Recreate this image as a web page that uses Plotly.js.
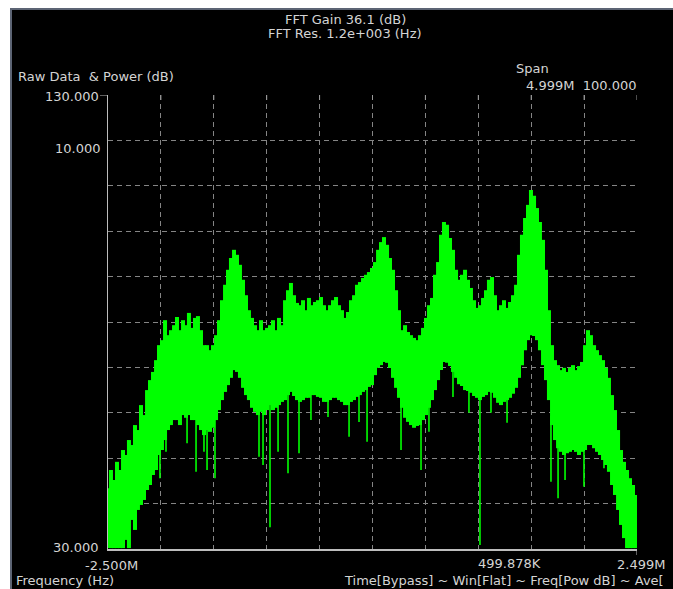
<!DOCTYPE html>
<html>
<head>
<meta charset="utf-8">
<script src="https://cdn.plot.ly/plotly-3.0.1.min.js"></script>
<style>
  html, body { margin: 0; padding: 0; background: #ffffff; overflow: hidden; }
  #frame {
    position: absolute; left: 10px; top: 8px;
    width: 661px; height: 579px;
    border-left: 2px solid #5c6474; border-top: 2px solid #5c6474;
    background: #000000; overflow: hidden;
  }
  #chart { width: 661px; height: 579px; }
</style>
</head>
<body>
<div id="frame"><div id="chart"></div></div>
<script>
// FFT bin centre frequencies (MHz)
const binFreqMHz = [
  -2.500,-2.472,-2.443,-2.415,-2.387,-2.358,-2.330,-2.302,-2.273,-2.245,
  -2.217,-2.188,-2.160,-2.131,-2.103,-2.075,-2.046,-2.018,-1.990,-1.961,
  -1.933,-1.905,-1.876,-1.848,-1.820,-1.791,-1.763,-1.735,-1.706,-1.678,
  -1.650,-1.621,-1.593,-1.564,-1.536,-1.508,-1.479,-1.451,-1.423,-1.394,
  -1.366,-1.338,-1.309,-1.281,-1.253,-1.224,-1.196,-1.168,-1.139,-1.111,
  -1.083,-1.054,-1.026,-0.997,-0.969,-0.941,-0.912,-0.884,-0.856,-0.827,
  -0.799,-0.771,-0.742,-0.714,-0.686,-0.657,-0.629,-0.601,-0.572,-0.544,
  -0.516,-0.487,-0.459,-0.430,-0.402,-0.374,-0.345,-0.317,-0.289,-0.260,
  -0.232,-0.204,-0.175,-0.147,-0.119,-0.090,-0.062,-0.034,-0.005,0.023,
  0.052,0.080,0.108,0.137,0.165,0.193,0.222,0.250,0.278,0.307,
  0.335,0.363,0.392,0.420,0.448,0.477,0.505,0.533,0.562,0.590,
  0.619,0.647,0.675,0.704,0.732,0.760,0.789,0.817,0.845,0.874,
  0.902,0.930,0.959,0.987,1.015,1.044,1.072,1.100,1.129,1.157,
  1.186,1.214,1.242,1.271,1.299,1.327,1.356,1.384,1.412,1.441,
  1.469,1.497,1.526,1.554,1.582,1.611,1.639,1.667,1.696,1.724,
  1.753,1.781,1.809,1.838,1.866,1.894,1.923,1.951,1.979,2.008,
  2.036,2.064,2.093,2.121,2.149,2.178,2.206,2.234,2.263,2.291,
  2.320,2.348,2.376,2.405,2.433,2.461,2.490
];

// Max power in each bin (dB)
const peakDb = [
  43.4,47.4,45.2,49.2,47.4,51.8,50.7,54.0,52.9,57.3,
  56.2,61.7,59.5,65.0,67.2,69.0,71.6,74.9,76.0,80.4,
  77.1,78.2,79.3,81.1,78.2,80.4,79.3,82.0,78.7,80.9,
  81.3,78.2,74.9,74.9,73.8,74.9,77.1,80.4,84.8,88.2,
  91.5,94.1,95.9,94.8,92.6,89.3,85.9,82.6,80.9,79.3,
  78.2,80.4,78.2,78.7,79.3,80.4,78.2,80.9,79.3,84.8,
  87.0,88.6,85.9,84.2,83.7,84.8,82.6,85.3,83.7,84.4,
  84.8,85.5,83.7,82.6,83.7,84.8,85.5,83.7,82.6,80.9,
  82.2,84.8,85.9,88.2,88.8,89.7,90.4,91.0,91.9,93.2,
  95.9,97.6,98.7,97.0,94.1,91.5,87.0,82.6,78.2,79.3,
  77.8,77.1,76.5,76.0,77.1,78.7,80.9,83.7,85.3,90.4,
  93.2,99.2,102.0,101.4,98.5,95.9,91.5,89.3,90.4,91.5,
  89.3,87.5,84.8,83.1,83.7,85.3,87.0,89.3,89.9,85.9,
  82.6,83.7,84.8,83.1,84.4,85.9,88.2,94.8,99.2,102.9,
  105.8,109.1,107.8,105.1,102.0,98.1,91.5,82.6,74.9,71.6,
  70.5,69.4,69.9,69.0,69.9,70.5,69.4,70.3,71.2,74.9,
  78.2,77.1,74.9,73.8,72.7,71.6,69.9,67.7,63.9,60.6,
  56.2,51.8,49.2,47.4,45.6,44.1,41.9
];

// Min power in each bin (dB)
const floorDb = [
  30.2,30.2,30.2,30.2,30.2,30.2,32.0,30.2,36.4,34.2,
  38.6,39.7,40.8,43.0,44.1,46.3,47.4,50.7,51.8,54.0,
  56.2,57.3,58.4,58.4,57.3,59.5,58.9,59.5,58.4,58.4,
  57.3,56.2,55.1,56.2,55.8,56.7,58.4,60.6,62.8,64.6,
  66.1,67.7,69.4,69.0,67.7,65.5,63.9,62.8,61.1,60.2,
  59.5,60.2,59.5,60.6,61.7,60.6,61.1,61.7,62.4,62.8,
  63.9,64.6,63.7,62.8,62.4,62.8,63.3,63.3,63.9,63.9,
  63.5,63.3,62.4,62.4,62.8,63.3,63.3,62.8,62.4,61.7,
  61.7,62.4,62.8,63.5,63.9,64.6,65.0,65.7,66.1,68.3,
  69.9,70.5,71.2,71.0,69.9,67.7,65.5,63.3,61.1,58.9,
  58.0,57.3,56.7,57.1,57.3,58.4,59.5,61.1,62.8,65.0,
  67.2,69.4,71.2,71.0,70.3,69.0,67.7,66.3,65.9,65.0,
  64.8,64.4,63.7,63.3,62.8,63.5,63.9,64.6,64.4,63.3,
  62.2,61.7,62.4,62.8,63.3,64.2,65.5,67.7,70.5,73.8,
  76.0,77.1,76.9,76.0,73.8,70.5,67.2,62.8,57.3,54.0,
  52.2,51.4,50.7,51.1,51.4,51.8,51.4,50.7,51.4,51.8,
  52.9,52.9,52.2,51.4,50.7,49.6,48.5,47.0,44.1,41.9,
  38.6,35.3,32.4,30.2,30.2,30.2,30.2
];

// Deep single-bin dropouts below the main trace
const dropFreqMHz = [
  -2.264,-2.009,-1.952,-1.753,-1.668,-1.593,-1.564,-1.489,-1.073,-1.035,
  -0.969,-0.893,-0.799,-0.695,-0.582,-0.421,-0.222,-0.128,-0.052,0.269,
  0.458,0.533,0.760,0.911,1.015,1.119,1.271,1.686,1.753,1.819,
  1.913,1.998,2.187,2.272
];
const dropDb = [
  37.9,45.6,51.4,53.3,47.0,51.4,47.4,45.6,50.3,48.5,
  34.8,51.4,46.7,51.1,58.4,59.1,54.7,58.0,53.6,51.8,
  47.4,55.8,63.5,60.0,30.9,60.0,57.8,44.8,41.2,45.2,
  51.4,43.7,47.8,45.2
];

// Axis divisions
const xRangeMHz = [-2.5, 2.499];
const xTicksMHz = [-2.5,-2.0001,-1.5002,-1.0003,-0.5004,-0.0005,0.4994,0.9993,1.4992,1.9991,2.499];
const yRangeDb = [30, 130];
const yTicksDb = [30,40,50,60,70,80,90,100,110,120,130];

// Text read-outs around the graticule
const headerLines = ['FFT Gain 36.1 (dB)', 'FFT Res. 1.2e+003 (Hz)'];
const yAxisName = 'Raw Data\u00a0\u00a0& Power (dB)';
const spanLabel = 'Span';
const spanValues = '4.999M\u00a0\u00a0100.000';
const yTopLabel = '130.000';
const yRawLabel = '10.000';
const yBottomLabel = '30.000';
const xLeftLabel = '-2.500M';
const xMarkerLabel = '499.878K';
const xRightLabel = '2.499M';
const xAxisName = 'Frequency (Hz)';
const modeLine = 'Time[Bypass] ~ Win[Flat] ~ Freq[Pow dB] ~ Ave[';

// ---- geometry of the plotting area inside the frame (pixels) ----
const FRAME_X = 12, FRAME_Y = 10;
const PLOT_L = 108, PLOT_T = 95, PLOT_R = 637, PLOT_B = 549;
const PW = PLOT_R - PLOT_L, PH = PLOT_B - PLOT_T;
const px = X => (X - PLOT_L) / PW;
const py = Y => (PLOT_B - Y) / PH;

const GREEN = '#00ff00';
const TEXT = '#d4d4d4';
const FONT = 'DejaVu Sans, Arial, sans-serif';

// Each bin drawn as a vertical min..max stroke
const binX = [], binY = [];
binFreqMHz.forEach((f, i) => {
  binX.push(f, f, null);
  binY.push(floorDb[i], peakDb[i], null);
});

// Dropouts start at the floor of the nearest bin
function nearestBin(f) {
  let best = 0;
  binFreqMHz.forEach((b, i) => { if (Math.abs(b - f) < Math.abs(binFreqMHz[best] - f)) best = i; });
  return best;
}
const dropX = [], dropY = [];
dropFreqMHz.forEach((f, i) => {
  const k = nearestBin(f);
  dropX.push(f, f, null);
  dropY.push(floorDb[k] + 2, dropDb[i], null);
});

const traces = [
  {
    type: 'scatter', mode: 'lines', x: binX, y: binY,
    line: { color: GREEN, width: 4 }, hoverinfo: 'skip', showlegend: false
  },
  {
    type: 'scatter', mode: 'lines', x: dropX, y: dropY,
    line: { color: GREEN, width: 1.6 }, hoverinfo: 'skip', showlegend: false
  }
];

function label(text, X, Y, anchor, vAnchor) {
  return {
    text: text, xref: 'paper', yref: 'paper', x: px(X), y: py(Y),
    xanchor: anchor || 'left', yanchor: vAnchor || 'middle', showarrow: false,
    font: { family: FONT, size: 13, color: TEXT }
  };
}

const annotations = [
  label(headerLines[0], 345, 10, 'center', 'top'),
  label(headerLines[1], 345, 33, 'center'),
  label(yAxisName, 16, 77, 'left'),
  label(spanLabel, 514, 68, 'left'),
  label(spanValues, 638, 86, 'right'),
  label(yTopLabel, 101, 96, 'right'),
  label(yRawLabel, 103, 148, 'right'),
  label(yBottomLabel, 101, 547, 'right'),
  label(xLeftLabel, 111, 565, 'center'),
  label(xMarkerLabel, 476, 563, 'left'),
  label(xRightLabel, 641, 564, 'center'),
  label(xAxisName, 14, 580, 'left'),
  label(modeLine, 342, 580, 'left')
];

// small solid ticks at the top of each vertical division + left tick at 130
const shapes = [];
xTicksMHz.slice(1).forEach(v => {
  shapes.push({ type: 'line', xref: 'x', yref: 'paper', x0: v, x1: v, y0: 1, y1: 1 - 5 / PH,
    line: { color: '#9a9a9a', width: 1 } });
});
shapes.push({ type: 'line', xref: 'paper', yref: 'y', x0: px(100), x1: 0, y0: yRangeDb[1], y1: yRangeDb[1],
  line: { color: '#bdbdbd', width: 1 } });
shapes.push({ type: 'line', xref: 'x', yref: 'paper', x0: xRangeMHz[1], x1: xRangeMHz[1], y0: 0, y1: -6 / PH,
  line: { color: '#bdbdbd', width: 1 } });

const grid = { color: '#858585', dash: '5px,4px' };

const layout = {
  width: 661, height: 579,
  margin: { l: PLOT_L - FRAME_X, t: PLOT_T - FRAME_Y, r: 673 - PLOT_R, b: 589 - PLOT_B, pad: 0 },
  paper_bgcolor: '#000000', plot_bgcolor: '#000000',
  showlegend: false,
  xaxis: {
    range: xRangeMHz, tickvals: xTicksMHz, showticklabels: false, ticks: '',
    showgrid: true, gridcolor: grid.color, griddash: grid.dash, gridwidth: 1,
    zeroline: false, showline: true, linecolor: '#bdbdbd', linewidth: 1.5, fixedrange: true
  },
  yaxis: {
    range: yRangeDb, tickvals: yTicksDb, showticklabels: false, ticks: '',
    showgrid: true, gridcolor: grid.color, griddash: grid.dash, gridwidth: 1,
    zeroline: false, showline: true, linecolor: '#bdbdbd', linewidth: 1.5, fixedrange: true
  },
  annotations: annotations,
  shapes: shapes
};

Plotly.newPlot('chart', traces, layout, { displayModeBar: false, staticPlot: true });
</script>
</body>
</html>
